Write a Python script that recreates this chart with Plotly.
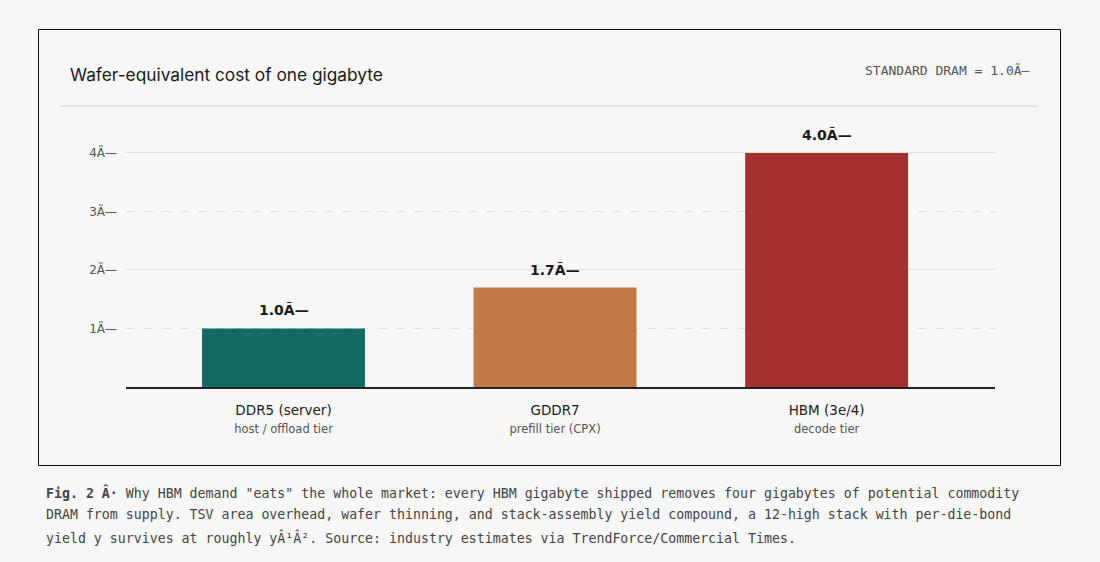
import plotly.graph_objects as go

W, H = 1100, 562

categories = ["DDR5 (server)", "GDDR7", "HBM (3e/4)"]
subtitles = ["host / offload tier", "prefill tier (CPX)", "decode tier"]
values = [1.0, 1.7, 4.0]
value_labels = ["1.0Ã—", "1.7Ã—", "4.0Ã—"]
colors = ["#146a62", "#c27945", "#a6302e"]
ytick_vals = [1, 2, 3, 4]
ytick_text = ["1Ã—", "2Ã—", "3Ã—", "4Ã—"]
solid_grid = [2, 4]
dashed_grid = [1, 3]

title = "Wafer-equivalent cost of one gigabyte"
note = "STANDARD DRAM = 1.0Ã—"
caption_lines = [
    "<b>Fig. 2 Â·</b> Why HBM demand \"eats\" the whole market: every HBM gigabyte shipped removes four gigabytes of potential commodity",
    "DRAM from supply. TSV area overhead, wafer thinning, and stack-assembly yield compound, a 12-high stack with per-die-bond",
    "yield y survives at roughly yÂ¹Â². Source: industry estimates via TrendForce/Commercial Times.",
]

BG = "#f6f7f6"
MONO = "'DejaVu Sans Mono', 'Liberation Mono', monospace"
SANS = "'DejaVu Sans', sans-serif"
GRID = "#dedfde"

def px(x):
    return x / W

def py(y):
    return (H - y) / H

x_idx = list(range(len(categories)))
ticktext = [f"{c}<br><span style='font-size:11.5px;color:#555'>{s}</span>" for c, s in zip(categories, subtitles)]

fig = go.Figure()
fig.add_trace(go.Bar(
    x=x_idx, y=values, marker=dict(color=colors, line=dict(width=0)),
    width=0.6, hoverinfo="skip", showlegend=False,
))
# empty helper traces so the grid-only overlay axes render
fig.add_trace(go.Scatter(x=[None], y=[None], yaxis="y2", showlegend=False, hoverinfo="skip"))
fig.add_trace(go.Scatter(x=[None], y=[None], yaxis="y3", showlegend=False, hoverinfo="skip"))

for xi, v, t in zip(x_idx, values, value_labels):
    fig.add_annotation(x=xi, y=v, xref="x", yref="y", text=f"<b>{t}</b>", showarrow=False,
                       yanchor="bottom", yshift=8, font=dict(family=SANS, size=14, color="#1a1a1a"))

# frame
fig.add_shape(type="rect", xref="paper", yref="paper", x0=px(38.5), x1=px(1060.5), y0=py(465.5), y1=py(29.5),
              line=dict(color="#111", width=1), layer="below")
fig.add_shape(type="line", xref="paper", yref="paper", x0=px(61), x1=px(1038), y0=py(106), y1=py(106),
              line=dict(color="#dcdddc", width=1.5), layer="below")

fig.add_annotation(xref="paper", yref="paper", x=px(68), y=py(75), xanchor="left", yanchor="middle",
                   text=title, showarrow=False, font=dict(family="Inter, sans-serif", size=17.3, color="#1a1a1a"))
fig.add_annotation(xref="paper", yref="paper", x=px(1032), y=py(71), xanchor="right", yanchor="middle",
                   text=note, showarrow=False, font=dict(family=MONO, size=13, color="#555"))

for line, yy in zip(caption_lines, [492, 514.5, 537]):
    fig.add_annotation(xref="paper", yref="paper", x=px(44), y=py(yy), xanchor="left", yanchor="middle",
                       text=line, showarrow=False, align="left",
                       font=dict(family=MONO, size=13.25, color="#444"))

y_bottom, y_top = 387, 135.4
yrange = [0, 4.3]
ydomain = [py(y_bottom), py(y_top)]
fig.update_layout(
    width=W, height=H, margin=dict(l=0, r=0, t=0, b=0),
    paper_bgcolor=BG, plot_bgcolor=BG,
    xaxis=dict(domain=[px(126), px(995)], range=[-0.58, 2.62], tickvals=x_idx, ticktext=ticktext,
               showgrid=False, showline=True, linecolor="#222", linewidth=2, ticks="", ticklabelstandoff=10,
               tickfont=dict(family=SANS, size=13.5, color="#222"), fixedrange=True),
    yaxis=dict(domain=ydomain, range=yrange, tickvals=ytick_vals, ticktext=ytick_text,
               showgrid=False, zeroline=False, showline=False, ticks="", ticklabelstandoff=8,
               tickfont=dict(family=SANS, size=12, color="#555"), fixedrange=True),
    yaxis2=dict(overlaying="y", anchor="x", range=yrange, tickvals=solid_grid, showticklabels=False,
                showgrid=True, gridcolor=GRID, gridwidth=1, zeroline=False, showline=False, ticks="",
                fixedrange=True),
    yaxis3=dict(overlaying="y", anchor="x", range=yrange, tickvals=dashed_grid, showticklabels=False,
                showgrid=True, gridcolor=GRID, gridwidth=1, griddash="dash", zeroline=False, showline=False,
                ticks="", fixedrange=True),
    bargap=0.4,
)

fig.write_html("out.html")
